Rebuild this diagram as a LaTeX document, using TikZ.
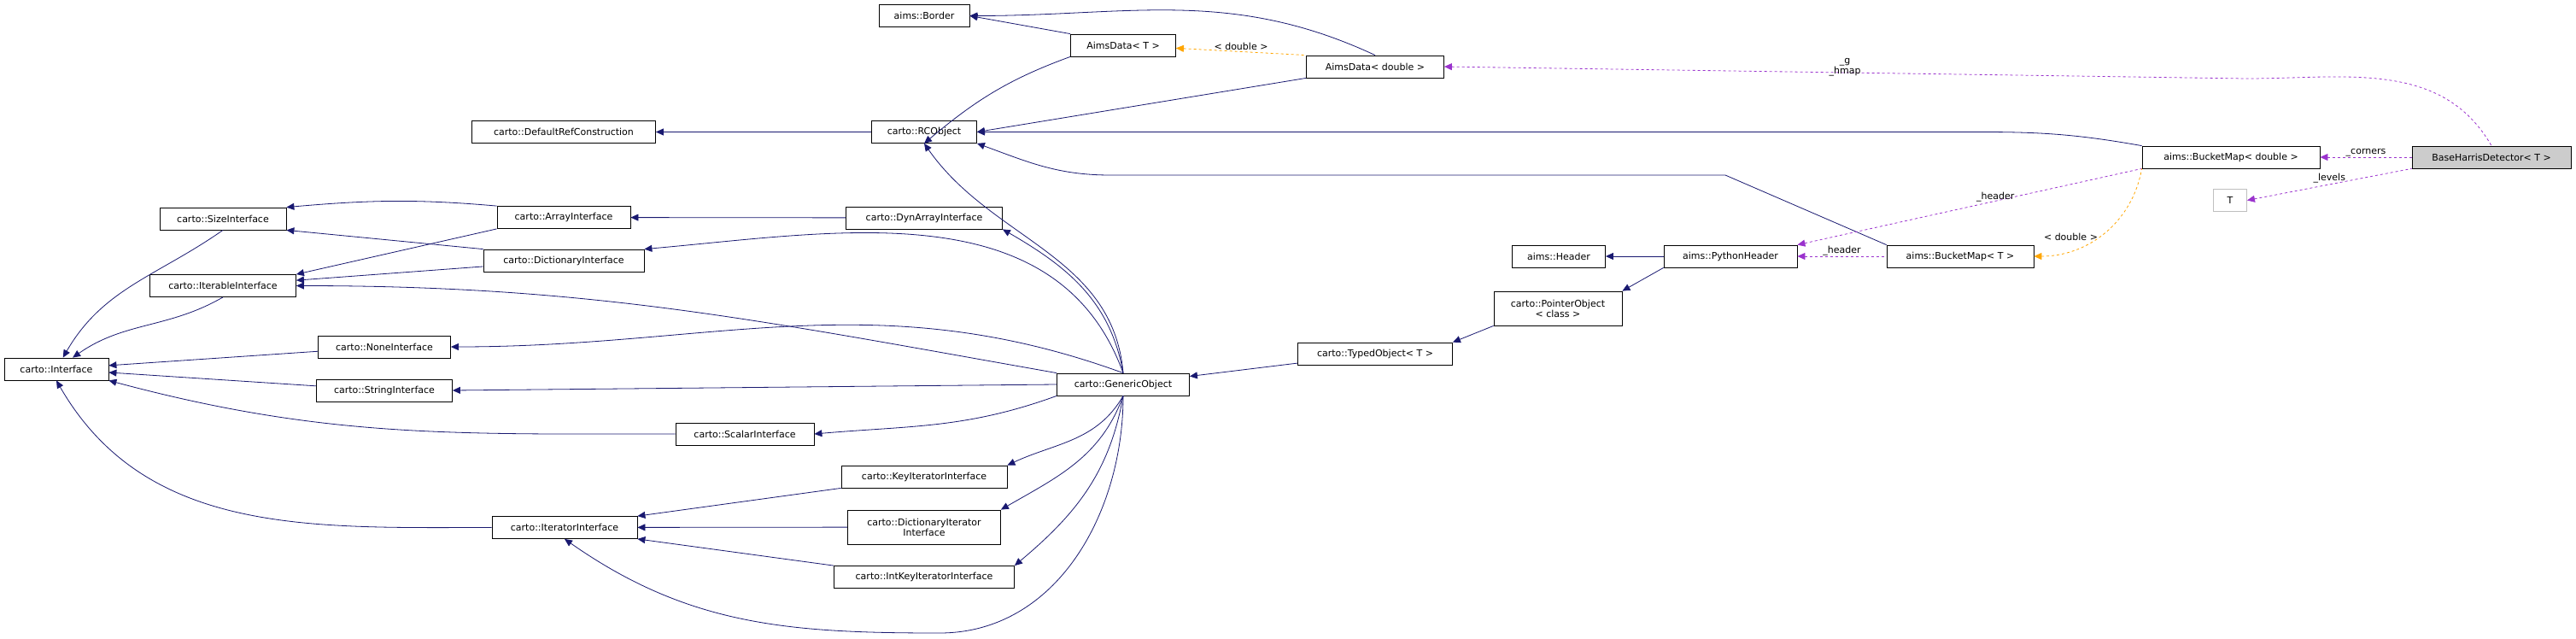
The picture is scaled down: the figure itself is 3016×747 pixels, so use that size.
\documentclass[tikz,border=0pt]{standalone}
\usepackage{fontspec}
\setmainfont{DejaVu Sans}
\usepackage{tikz}
\usetikzlibrary{arrows.meta,positioning}
\definecolor{navy}{HTML}{191970}
\definecolor{orchid}{HTML}{9A32CD}
\definecolor{amber}{HTML}{FFA500}

\begin{document}
\begin{tikzpicture}[
	x=1pt, y=-1pt,
	every node/.style = {font=\fontsize{11}{12}\selectfont},
	cls/.style = {shape=rectangle, draw=black, thick, fill=white,
		inner sep=3pt, minimum height=26pt, align=center},
	inherit/.style = {{Triangle[length=9pt,width=8pt]}-, draw=navy, thick},
	uses/.style = {{Triangle[length=9pt,width=8pt]}-, draw=orchid, thick, dashed},
	templ/.style = {{Triangle[length=9pt,width=8pt]}-, draw=amber, thick, dashed},
	lbl/.style = {inner sep=1pt, align=center}
]
\useasboundingbox (0,0) rectangle (3016,747);

% left column: interfaces
\node[cls, minimum width=122pt] (iface) at (66,432) {carto::Interface};
\node[cls, minimum width=148pt] (size) at (261,256) {carto::SizeInterface};
\node[cls, minimum width=171pt] (iter) at (261,334.5) {carto::IterableInterface};
\node[cls, minimum width=155pt] (none) at (450,406) {carto::NoneInterface};
\node[cls, minimum width=159pt] (str) at (450,457) {carto::StringInterface};
\node[cls, minimum width=215pt] (defref) at (660,154.5) {carto::DefaultRefConstruction};
\node[cls, minimum width=156pt] (arr) at (660,254.5) {carto::ArrayInterface};
\node[cls, minimum width=188pt] (dict) at (660,305) {carto::DictionaryInterface};
\node[cls, minimum width=170pt] (itif) at (661,617.5) {carto::IteratorInterface};
\node[cls, minimum width=162pt] (scal) at (872,508) {carto::ScalarInterface};

% middle column
\node[cls, minimum width=106pt] (border) at (1082,18.5) {aims::Border};
\node[cls, minimum width=123pt] (rco) at (1082,154.5) {carto::RCObject};
\node[cls, minimum width=183pt] (dyn) at (1082,255) {carto::DynArrayInterface};
\node[cls, minimum width=194pt] (keyit) at (1082,558) {carto::KeyIteratorInterface};
\node[cls, minimum width=179pt, minimum height=40pt] (dictit) at (1082,617) {carto::DictionaryIterator\\Interface};
\node[cls, minimum width=211pt] (intkey) at (1082,675.5) {carto::IntKeyIteratorInterface};
\node[cls, minimum width=123pt] (aimsT) at (1315,53) {AimsData< T >};
\node[cls, minimum width=155pt] (gen) at (1315,450) {carto::GenericObject};
\node[cls, minimum width=161pt] (aimsD) at (1610,78) {AimsData< double >};
\node[cls, minimum width=181pt] (typed) at (1610,414) {carto::TypedObject< T >};
\node[cls, minimum width=150pt, minimum height=40pt] (ptr) at (1824,361) {carto::PointerObject\\< class >};
\node[cls, minimum width=109pt] (hdr) at (1825,300) {aims::Header};

% right column
\node[cls, minimum width=156pt] (pyhdr) at (2026,300) {aims::PythonHeader};
\node[cls, minimum width=172pt] (bmT) at (2295,300) {aims::BucketMap< T >};
\node[cls, minimum width=208pt] (bmD) at (2612,184) {aims::BucketMap< double >};
\node[cls, draw=lightgray, minimum width=39pt] (targ) at (2611,234.5) {T};
\node[cls, fill=lightgray!80, minimum width=186pt] (harris) at (2917,184) {BaseHarrisDetector< T >};

% inheritance
\draw[inherit] (iface) to[out=60,in=-145] (size.south);
\draw[inherit] (iface) to[out=35,in=-150] (iter.south);
\draw[inherit] (iface) -- (none);
\draw[inherit] (iface) -- (str);
\draw[inherit] (iface.south east) to[out=-15,in=180] (scal);
\draw[inherit] (iface.south) to[out=-60,in=180] (itif);
\draw[inherit] (size.north east) to[out=5,in=175] (arr.north west);
\draw[inherit] (size.south east) -- (dict.north west);
\draw[inherit] (iter.north east) -- (arr.south west);
\draw[inherit] (iter) -- (dict);
\draw[inherit] (iter.east) to[out=0,in=170] (gen.north west);
\draw[inherit] (arr) -- (dyn);
\draw[inherit] (defref) -- (rco);
\draw[inherit] (border.east) -- (aimsT.north west);
\draw[inherit] (border.east) to[out=0,in=155] (aimsD.north);
\draw[inherit] (rco.south) to[out=40,in=-160] (aimsT.south west);
\draw[inherit] (rco.east) -- (aimsD.south west);
\draw[inherit] (rco.east) -- (2320,154.5) to[out=0,in=170] (bmD.north west);
\draw[inherit] (rco.south) to[out=-55,in=95] (gen.north);
\draw[inherit] (rco.south east) to[out=-20,in=180] (1300,205) -- (2020,205) -- (bmT.north west);
\draw[inherit] (dyn.south east) to[out=-30,in=100] (gen.north);
\draw[inherit] (dict.north east) to[out=5,in=110] (gen.north);
\draw[inherit] (none.east) to[out=0,in=160] (gen.north);
\draw[inherit] (str.east) -- (gen.west);
\draw[inherit] (scal.east) to[out=5,in=-160] (gen.south west);
\draw[inherit] (itif.north east) -- (keyit.south west);
\draw[inherit] (itif) -- (dictit);
\draw[inherit] (itif.south east) -- (intkey.north west);
\draw[inherit] (itif.south) to[out=-35,in=180] (1100,741) to[out=0,in=-90] (gen.south);
\draw[inherit] (keyit.north east) to[out=25,in=-120] (gen.south);
\draw[inherit] (dictit.north east) to[out=30,in=-110] (gen.south);
\draw[inherit] (intkey.north east) to[out=40,in=-100] (gen.south);
\draw[inherit] (gen) -- (typed);
\draw[inherit] (typed.north east) -- (ptr.south west);
\draw[inherit] (ptr.north east) -- (pyhdr.south west);
\draw[inherit] (hdr) -- (pyhdr);

% usage and template relations
\draw[templ] (aimsT) -- node[lbl, above] {< double >} (aimsD.north west);
\draw[uses] (aimsD.east) -- (2630,92) to[out=0,in=120] node[lbl, pos=0, above left=2pt and 450pt, align=center] {\_g\\\_hmap} (harris.north);
\draw[uses] (bmD) -- node[lbl, above] {\_corners} (harris);
\draw[uses] (targ.east) -- node[lbl, above, pos=0.5] {\_levels} (harris.south west);
\draw[uses] (pyhdr.north east) -- node[lbl, above, pos=0.55, xshift=10pt] {\_header} (bmD.south west);
\draw[uses] (pyhdr) -- node[lbl, above] {\_header} (bmT);
\draw[templ] (bmT.east) to[out=0,in=-100] node[lbl, pos=0.45, left] {< double >} (bmD.south west);
\end{tikzpicture}
\end{document}
